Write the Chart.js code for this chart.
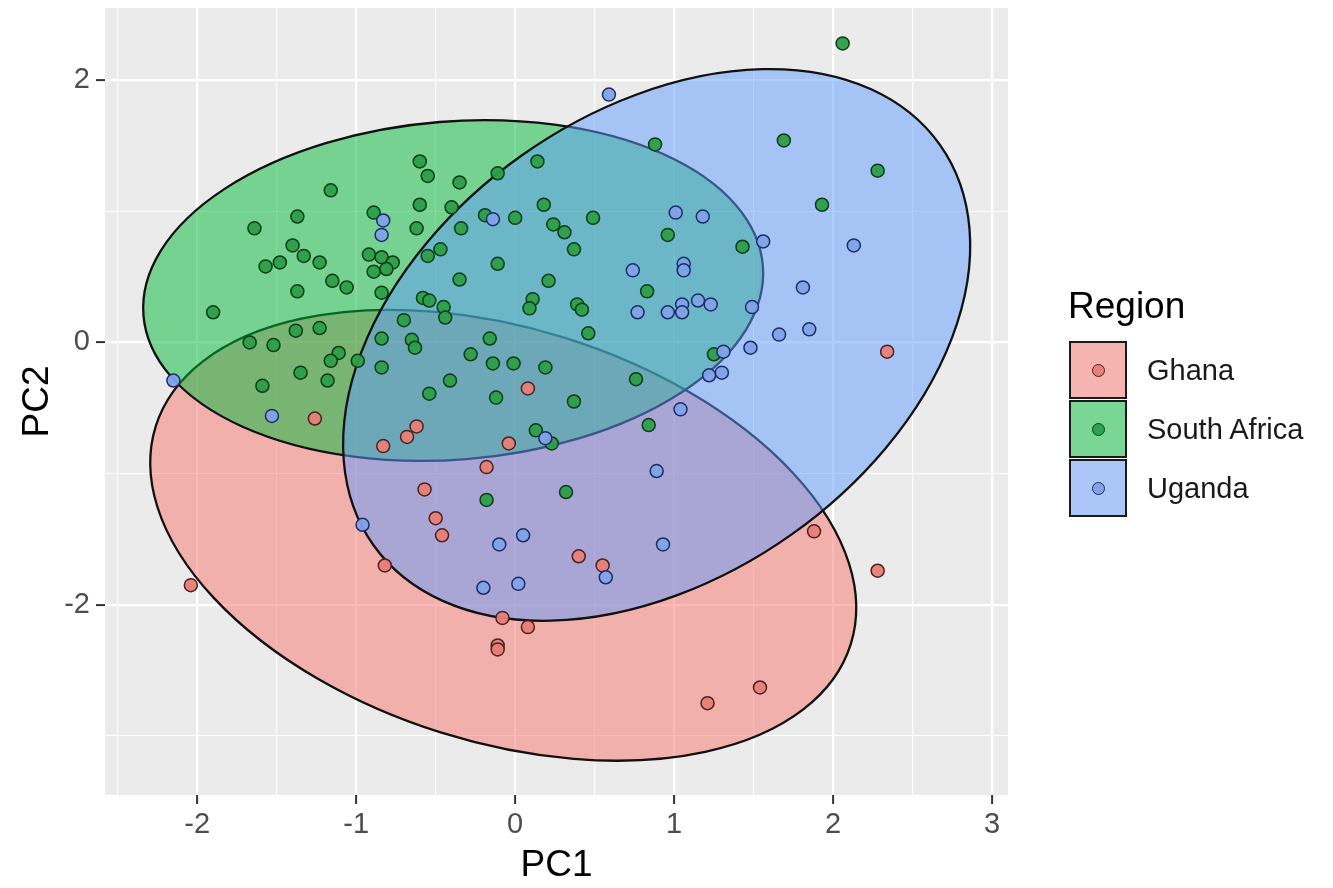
<!DOCTYPE html>
<html>
<head>
<meta charset="utf-8">
<script src="https://cdn.jsdelivr.net/npm/chart.js@4.4.1/dist/chart.umd.min.js"></script>
<style>
  body { margin: 0; background: #fff; font-family: "Liberation Sans", Arial, sans-serif; }
  #wrap { position: relative; width: 1333px; height: 888px; }
  #legend-title { position: absolute; left: 1068px; top: 287px; font-size: 37px; line-height: 37px; color: #000; }
  .key { position: absolute; left: 1069px; width: 58px; height: 58px; box-sizing: border-box; border: 2.5px solid #1a1a1a; }
  .key .dot { position: absolute; left: 50%; top: 50%; width: 13px; height: 13px; margin: -6.5px 0 0 -6.5px; border-radius: 50%; box-sizing: border-box; border: 1.5px solid #222; }
  .key-label { position: absolute; left: 1147px; height: 58px; line-height: 58px; font-size: 29px; color: #1a1a1a; white-space: nowrap; }
</style>
</head>
<body>
<div id="wrap">
  <canvas id="pca"></canvas>
  <div id="legend-title">Region</div>
  <div id="legend"></div>
</div>
<script>
// ---- data ----
const regions = ['Ghana', 'South Africa', 'Uganda'];

const ghanaX = [-1.26, -0.83, -0.68, -0.62, 0.08, -0.04, -0.18, -0.57, -0.50, -0.46, -0.82, -2.04,
  -0.08, 0.08, -0.11, -0.11, 0.40, 0.55, 1.88, 2.28, 1.54, 1.21, 2.34];
const ghanaY = [-0.58, -0.79, -0.72, -0.64, -0.35, -0.77, -0.95, -1.12, -1.34, -1.47, -1.70, -1.85,
  -2.10, -2.17, -2.31, -2.34, -1.63, -1.70, -1.44, -1.74, -2.63, -2.75, -0.07];

const southAfricaX = [2.06, 1.69, 2.28, 1.93, 1.43, 0.88, -0.60, -0.55, -0.35, -0.11, 0.14, -0.60,
  -0.40, -0.62, -0.34, -0.19, 0.00, 0.18, 0.24, 0.31, 0.37, 0.49, 0.96, -0.47, -0.55, -0.11, -0.35,
  0.21, -1.16, -1.37, -1.64, -0.89, -1.40, -1.33, -1.23, -1.48, -1.57, -0.92, -0.84, -0.77, -0.81,
  -0.89, -1.15, -1.06, -0.84, -1.37, -1.90, -1.38, -1.23, -1.67, -1.52, -1.11, -1.16, -0.99, -0.70,
  -0.84, -0.65, -0.63, -1.35, -1.18, -1.59, -0.84, -0.58, -0.54, -0.45, -0.44, 0.11, 0.09, 0.39,
  0.42, 0.46, 0.83, -0.16, -0.28, -0.14, -0.01, 0.19, -0.41, -0.54, -0.12, 0.37, 0.76, 1.25, 0.84,
  0.13, 0.23, -0.18, 0.32];
const southAfricaY = [2.28, 1.54, 1.31, 1.05, 0.73, 1.51, 1.38, 1.27, 1.22, 1.29, 1.38, 1.05,
  1.03, 0.87, 0.87, 0.97, 0.95, 1.05, 0.90, 0.84, 0.71, 0.95, 0.82, 0.71, 0.66, 0.60, 0.48,
  0.47, 1.16, 0.96, 0.87, 0.99, 0.74, 0.66, 0.61, 0.61, 0.58, 0.67, 0.65, 0.61, 0.56,
  0.54, 0.47, 0.42, 0.38, 0.39, 0.23, 0.09, 0.11, 0.00, -0.02, -0.08, -0.14, -0.14, 0.17,
  0.03, 0.02, -0.04, -0.23, -0.29, -0.33, -0.19, 0.34, 0.32, 0.27, 0.19, 0.33, 0.26, 0.29,
  0.25, 0.07, 0.39, 0.03, -0.09, -0.16, -0.16, -0.19, -0.29, -0.39, -0.42, -0.45, -0.28, -0.09, -0.63,
  -0.67, -0.77, -1.20, -1.14];

const ugandaX = [0.59, 1.56, 2.13, 1.01, 1.18, -0.14, -0.83, -0.84, 0.74, 1.06, 1.06, 0.77, 0.96,
  1.05, 1.05, 1.15, 1.23, 1.81, 1.49, 1.66, 1.85, 1.48, 1.31, 1.22, 1.30, 1.04, 0.89, 0.19, -2.15,
  -1.53, -0.96, 0.05, -0.10, 0.93, 0.57, -0.20, 0.02];
const ugandaY = [1.89, 0.77, 0.74, 0.99, 0.96, 0.94, 0.93, 0.82, 0.55, 0.60, 0.55, 0.23, 0.23,
  0.29, 0.23, 0.32, 0.29, 0.42, 0.27, 0.06, 0.10, -0.04, -0.07, -0.25, -0.23, -0.51, -0.98, -0.73, -0.29,
  -0.56, -1.39, -1.47, -1.54, -1.54, -1.79, -1.87, -1.84];

// confidence ellipses: centre and two half-axis vectors, in PC units (Ghana, South Africa, Uganda)
const ellipseCenterX = [-0.075, -0.390, 0.890];
const ellipseCenterY = [-1.470, 0.396, -0.019];
const ellipseMajorX = [2.186, 1.948, 1.782];
const ellipseMajorY = [-0.830, 0.189, 1.525];
const ellipseMinorX = [-0.389, 0.085, 0.845];
const ellipseMinorY = [-1.505, -1.285, -1.448];

const xMajorTicks = [-2, -1, 0, 1, 2, 3];
const xMinorTicks = [-2.5, -1.5, -0.5, 0.5, 1.5, 2.5];
const yMajorTicks = [-2, 0, 2];
const yMinorTicks = [-3, -1, 1];

// ---- styles ----
const ellipseFill = ['rgba(248,118,109,0.5)', 'rgba(0,186,56,0.5)', 'rgba(97,156,255,0.5)'];
const pointFill = ['rgba(232,126,118,0.95)', 'rgba(44,158,72,0.95)', 'rgba(128,162,232,0.95)'];
const pointBorder = ['#4a2220', '#0e3a18', '#1c2d66'];
const keyFill = ['#F5B4B0', '#79D695', '#AAC7F8'];
const FONT = '"Liberation Sans", Arial, sans-serif';

const toPoints = (xs, ys) => xs.map((x, i) => ({ x, y: ys[i] }));
const pointSets = [toPoints(ghanaX, ghanaY), toPoints(southAfricaX, southAfricaY), toPoints(ugandaX, ugandaY)];

// panel background
const panelBg = {
  id: 'panelBg',
  beforeDraw(chart) {
    const { ctx, chartArea: a } = chart;
    ctx.save();
    ctx.fillStyle = '#EBEBEB';
    ctx.fillRect(a.left, a.top, a.right - a.left, a.bottom - a.top);
    ctx.restore();
  }
};

// ellipses drawn through the scales, Ghana first so later fills tint earlier outlines
const ellipses = {
  id: 'ellipses',
  beforeDatasetsDraw(chart) {
    const { ctx, chartArea: a, scales: { x, y } } = chart;
    ctx.save();
    ctx.beginPath();
    ctx.rect(a.left, a.top, a.right - a.left, a.bottom - a.top);
    ctx.clip();
    regions.forEach((name, i) => {
      const cx = x.getPixelForValue(ellipseCenterX[i]);
      const cy = y.getPixelForValue(ellipseCenterY[i]);
      const ux = x.getPixelForValue(ellipseCenterX[i] + ellipseMajorX[i]) - cx;
      const uy = y.getPixelForValue(ellipseCenterY[i] + ellipseMajorY[i]) - cy;
      const vx = x.getPixelForValue(ellipseCenterX[i] + ellipseMinorX[i]) - cx;
      const vy = y.getPixelForValue(ellipseCenterY[i] + ellipseMinorY[i]) - cy;
      ctx.save();
      ctx.beginPath();
      ctx.transform(ux, uy, vx, vy, cx, cy);
      ctx.arc(0, 0, 1, 0, Math.PI * 2);
      ctx.restore();
      ctx.fillStyle = ellipseFill[i];
      ctx.fill();
      ctx.lineWidth = 2.3;
      ctx.strokeStyle = '#111';
      ctx.stroke();
    });
    ctx.restore();
  }
};

function axisTicks(major, minor) {
  return scale => { scale.ticks = major.concat(minor).sort((a, b) => a - b).map(v => ({ value: v })); };
}

// dataset 0 is painted last, so Uganda goes first to sit on top like the reference
const order = [2, 1, 0];

new Chart(document.getElementById('pca'), {
  type: 'scatter',
  data: {
    datasets: order.map(i => ({
      label: regions[i],
      data: pointSets[i],
      backgroundColor: pointFill[i],
      borderColor: pointBorder[i],
      borderWidth: 1.5,
      pointRadius: 6.5,
      pointHoverRadius: 6.5,
    })),
  },
  options: {
    responsive: true,
    maintainAspectRatio: false,
    animation: false,
    layout: { padding: { left: 0, right: 325, top: 8, bottom: 0 } },
    plugins: { legend: { display: false }, tooltip: { enabled: false } },
    scales: {
      x: {
        type: 'linear',
        min: -2.58,
        max: 3.10,
        afterBuildTicks: axisTicks(xMajorTicks, xMinorTicks),
        afterFit: s => { s.height = 93; s.paddingLeft = 0; s.paddingRight = 0; },
        border: { display: false },
        grid: {
          color: '#FFFFFF',
          lineWidth: c => (xMajorTicks.includes(c.tick && c.tick.value) ? 2.2 : 1.1),
          tickColor: c => (xMajorTicks.includes(c.tick && c.tick.value) ? '#333333' : 'rgba(0,0,0,0)'),
          tickLength: 9,
          tickWidth: 2,
        },
        ticks: {
          autoSkip: false,
          maxRotation: 0,
          padding: 4,
          color: '#4D4D4D',
          font: { family: FONT, size: 29 },
          callback: v => (xMajorTicks.includes(v) ? String(v) : ''),
        },
        title: {
          display: true,
          text: 'PC1',
          color: '#000',
          font: { family: FONT, size: 37, lineHeight: 1.1 },
          padding: { top: 0, bottom: 2 },
        },
      },
      y: {
        type: 'linear',
        min: -3.45,
        max: 2.55,
        afterBuildTicks: axisTicks(yMajorTicks, yMinorTicks),
        afterFit: s => { s.width = 105; s.paddingTop = 0; s.paddingBottom = 0; },
        border: { display: false },
        grid: {
          color: '#FFFFFF',
          lineWidth: c => (yMajorTicks.includes(c.tick && c.tick.value) ? 2.2 : 1.1),
          tickColor: c => (yMajorTicks.includes(c.tick && c.tick.value) ? '#333333' : 'rgba(0,0,0,0)'),
          tickLength: 9,
          tickWidth: 2,
        },
        ticks: {
          autoSkip: false,
          padding: 6,
          color: '#4D4D4D',
          font: { family: FONT, size: 29 },
          callback: v => (yMajorTicks.includes(v) ? String(v) : ''),
        },
        title: {
          display: true,
          text: 'PC2',
          color: '#000',
          font: { family: FONT, size: 37, lineHeight: 1.1 },
          padding: { top: 17, bottom: 0 },
        },
      },
    },
  },
  plugins: [panelBg, ellipses],
});

// legend: one filled key per region with its point inside
const keyTops = [341, 400, 459];
const legend = document.getElementById('legend');
regions.forEach((name, i) => {
  const key = document.createElement('div');
  key.className = 'key';
  key.style.top = keyTops[i] + 'px';
  key.style.background = keyFill[i];
  const dot = document.createElement('div');
  dot.className = 'dot';
  dot.style.background = pointFill[i];
  dot.style.borderColor = pointBorder[i];
  key.appendChild(dot);
  legend.appendChild(key);
  const label = document.createElement('div');
  label.className = 'key-label';
  label.style.top = keyTops[i] + 'px';
  label.textContent = name;
  legend.appendChild(label);
});
</script>
</body>
</html>
